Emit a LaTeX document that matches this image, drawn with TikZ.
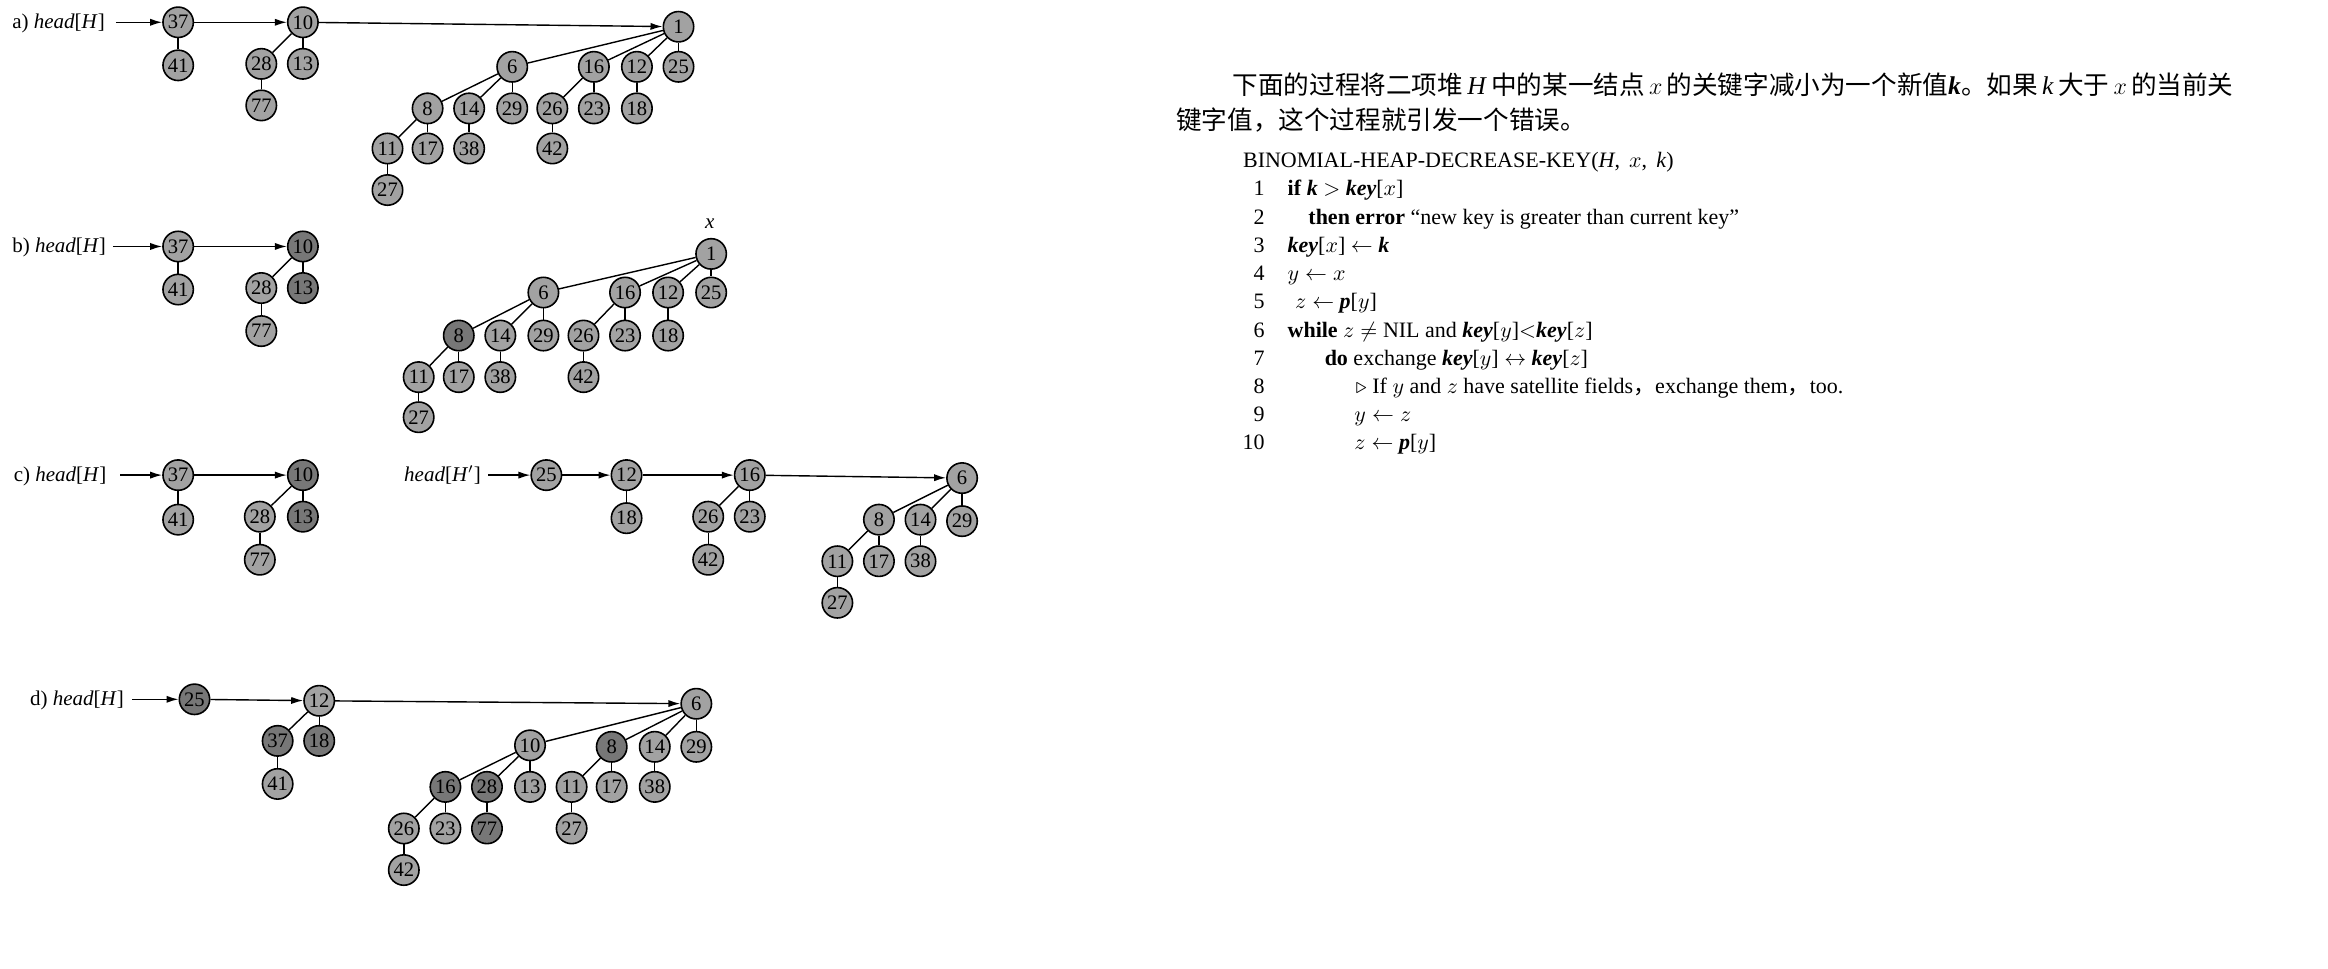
\documentclass[tikz,border=0pt]{standalone}
\usepackage{fontspec}
\setmainfont{Liberation Serif}
\newfontfamily\cjk{Noto Sans CJK SC}
\usetikzlibrary{arrows.meta}
\definecolor{nodegray}{HTML}{A2A2A2}
\definecolor{nodedark}{HTML}{777777}
\newcommand{\kw}[1]{\textbf{\textit{#1}}}
\newcommand{\lt}[1]{\textrm{\textit{#1}}}
\begin{document}
\begin{tikzpicture}[x=0.7425pt,y=-0.7425pt,
  hn/.style={circle,draw=black,line width=0.8pt,fill=nodegray,inner sep=0pt,minimum size=15.2pt,font=\fontsize{10.3}{10}\selectfont},
  hd/.style={hn,fill=nodedark},
  te/.style={draw=black,line width=0.7pt},
  ar/.style={draw=black,line width=0.7pt,-{Latex[length=6pt,width=3.6pt]}},
  lab/.style={anchor=base west,inner sep=0pt,font=\fontsize{10.5}{12}\selectfont},
  cl/.style={anchor=base west,inner sep=0pt,font=\fontsize{11}{13}\selectfont},
  ln/.style={anchor=base east,inner sep=0pt,font=\fontsize{11}{13}\selectfont},
  zh/.style={anchor=base west,inner sep=0pt,font=\cjk\fontsize{12.8}{15}\selectfont}]
\useasboundingbox (0,0) rectangle (1568,652);

% ---------- panel a ----------
\node[lab] (alab) at (8,19.5) {a) \textit{head}[\textit{H}]};
\coordinate (astart) at (78,15);
\node[hn] (a37) at (120,15) {37};
\node[hn] (a41) at (120,44) {41};
\node[hn] (a10) at (204,15) {10};
\node[hn] (a28) at (176,43) {28};
\node[hn] (a13) at (204,43) {13};
\node[hn] (a77) at (176,71) {77};
\node[hn] (a1) at (457,18) {1};
\node[hn] (a6) at (345,45) {6};
\node[hn] (a16) at (400,45) {16};
\node[hn] (a12) at (429,45) {12};
\node[hn] (a25) at (457,45) {25};
\node[hn] (a8) at (288,73) {8};
\node[hn] (a14) at (316,73) {14};
\node[hn] (a29) at (345,73) {29};
\node[hn] (a26) at (372,73) {26};
\node[hn] (a23) at (400,73) {23};
\node[hn] (a18) at (429,73) {18};
\node[hn] (a11) at (261,100) {11};
\node[hn] (a17) at (288,100) {17};
\node[hn] (a38) at (316,100) {38};
\node[hn] (a42) at (372,100) {42};
\node[hn] (a27) at (261,128) {27};
\foreach \p/\c in {a37/a41,a10/a28,a10/a13,a28/a77,a1/a6,a1/a16,a1/a12,a1/a25,a6/a8,a6/a14,a6/a29,a8/a11,a8/a17,a14/a38,a11/a27,a16/a26,a16/a23,a26/a42,a12/a18}
  \draw[te] (\p) -- (\c);
\draw[ar] (astart) -- (a37);
\draw[ar] (a37) -- (a10);
\draw[ar] (a10) -- (a1);

% ---------- panel b ----------
\node[lab] (blab) at (8,170) {b) \textit{head}[\textit{H}]};
\coordinate (bstart) at (76,166);
\node[hn] (b37) at (120,166) {37};
\node[hn] (b41) at (120,195) {41};
\node[hd] (b10) at (204,166) {10};
\node[hn] (b28) at (176,194) {28};
\node[hd] (b13) at (204,194) {13};
\node[hn] (b77) at (176,223) {77};
\node[lab,anchor=base] (bx) at (478,154) {\textit{x}};
\node[hn] (b1) at (479,171) {1};
\node[hn] (b6) at (366,197) {6};
\node[hn] (b16) at (421,197) {16};
\node[hn] (b12) at (450,197) {12};
\node[hn] (b25) at (479,197) {25};
\node[hd] (b8) at (309,226) {8};
\node[hn] (b14) at (337,226) {14};
\node[hn] (b29) at (366,226) {29};
\node[hn] (b26) at (393,226) {26};
\node[hn] (b23) at (421,226) {23};
\node[hn] (b18) at (450,226) {18};
\node[hn] (b11) at (282,254) {11};
\node[hn] (b17) at (309,254) {17};
\node[hn] (b38) at (337,254) {38};
\node[hn] (b42) at (393,254) {42};
\node[hn] (b27) at (282,281) {27};
\foreach \p/\c in {b37/b41,b10/b28,b10/b13,b28/b77,b1/b6,b1/b16,b1/b12,b1/b25,b6/b8,b6/b14,b6/b29,b8/b11,b8/b17,b14/b38,b11/b27,b16/b26,b16/b23,b26/b42,b12/b18}
  \draw[te] (\p) -- (\c);
\draw[ar] (bstart) -- (b37);
\draw[ar] (b37) -- (b10);

% ---------- panel c ----------
\node[lab] (clab) at (9,324.5) {c) \textit{head}[\textit{H}]};
\coordinate (cstart) at (81,320);
\node[hn] (c37) at (120,320) {37};
\node[hn] (c41) at (120,350) {41};
\node[hd] (c10) at (204,320) {10};
\node[hn] (c28) at (175,348) {28};
\node[hd] (c13) at (204,348) {13};
\node[hn] (c77) at (175,377) {77};
\node[lab] (chlab) at (272,324.5) {\textit{head}[\textit{H}$'$]};
\coordinate (chstart) at (329,320);
\node[hn] (c25) at (368,320) {25};
\node[hn] (c12) at (422,320) {12};
\node[hn] (c18) at (422,349) {18};
\node[hn] (c16) at (505,320) {16};
\node[hn] (c26) at (477,348) {26};
\node[hn] (c23) at (505,348) {23};
\node[hn] (c42) at (477,377) {42};
\node[hn] (c6) at (648,322) {6};
\node[hn] (c8) at (592,350) {8};
\node[hn] (c14) at (620,350) {14};
\node[hn] (c29) at (648,351) {29};
\node[hn] (c11) at (564,378) {11};
\node[hn] (c17) at (592,378) {17};
\node[hn] (c38) at (620,378) {38};
\node[hn] (c27) at (564,406) {27};
\foreach \p/\c in {c37/c41,c10/c28,c10/c13,c28/c77,c12/c18,c16/c26,c16/c23,c26/c42,c6/c8,c6/c14,c6/c29,c8/c11,c8/c17,c14/c38,c11/c27}
  \draw[te] (\p) -- (\c);
\draw[ar] (cstart) -- (c37);
\draw[ar] (c37) -- (c10);
\draw[ar] (chstart) -- (c25);
\draw[ar] (c25) -- (c12);
\draw[ar] (c12) -- (c16);
\draw[ar] (c16) -- (c6);

% ---------- panel d ----------
\node[lab] (dlab) at (20,475.5) {d) \textit{head}[\textit{H}]};
\coordinate (dstart) at (89,471);
\node[hd] (d25) at (131,471) {25};
\node[hn] (d12) at (215,472) {12};
\node[hd] (d37) at (187,499) {37};
\node[hd] (d18) at (215,499) {18};
\node[hn] (d41) at (187,528) {41};
\node[hn] (d6) at (469,474) {6};
\node[hn] (d10) at (357,502) {10};
\node[hd] (d8) at (412,503) {8};
\node[hn] (d14) at (441,503) {14};
\node[hn] (d29) at (469,503) {29};
\node[hd] (d16) at (300,530) {16};
\node[hd] (d28) at (328,530) {28};
\node[hn] (d13) at (357,530) {13};
\node[hn] (d11) at (385,530) {11};
\node[hn] (d17) at (412,530) {17};
\node[hn] (d38) at (441,530) {38};
\node[hn] (d26) at (272,558) {26};
\node[hn] (d23) at (300,558) {23};
\node[hd] (d77) at (328,558) {77};
\node[hn] (d27) at (385,558) {27};
\node[hn] (d42) at (272,586) {42};
\foreach \p/\c in {d12/d37,d12/d18,d37/d41,d6/d10,d6/d8,d6/d14,d6/d29,d10/d16,d10/d28,d10/d13,d16/d26,d16/d23,d26/d42,d28/d77,d8/d11,d8/d17,d11/d27,d14/d38}
  \draw[te] (\p) -- (\c);
\draw[ar] (dstart) -- (d25);
\draw[ar] (d25) -- (d12);
\draw[ar] (d12) -- (d6);

% ---------- text ----------
\node[zh] (p1) at (830,63.5) {下面的过程将二项堆\,\lt{H}\,中的某一结点\,$x$\,的关键字减小为一个新值\textrm{\kw{k}}。如果\,\lt{k}\,大于\,$x$\,的当前关};
\node[zh] (p2) at (792,87) {键字值，这个过程就引发一个错误。};
\node[cl] (hdr) at (837,112.5) {BINOMIAL-HEAP-DECREASE-KEY(\textit{H}, \,$x$, \,\textit{k})};
\node[ln] (n1) at (852,132) {1};
\node[ln] (n2) at (852,151) {2};
\node[ln] (n3) at (852,170) {3};
\node[ln] (n4) at (852,189) {4};
\node[ln] (n5) at (852,208) {5};
\node[ln] (n6) at (852,227) {6};
\node[ln] (n7) at (852,246) {7};
\node[ln] (n8) at (852,265) {8};
\node[ln] (n9) at (852,284) {9};
\node[ln] (n10) at (852,303) {10};
\node[cl] (l1) at (867,132) {\textbf{if} \kw{k} $>$ \kw{key}[$x$]};
\node[cl] (l2) at (881,151) {\textbf{then error} ``new key is greater than current key''};
\node[cl] (l3) at (867,170) {\kw{key}[$x$] $\leftarrow$ \kw{k}};
\node[cl] (l4) at (867,189) {$y \leftarrow x$};
\node[cl] (l5) at (872,208) {$z \leftarrow$ \kw{p}[$y$]};
\node[cl] (l6) at (867,227) {\textbf{while} $z \neq$ NIL and \kw{key}[$y$]$<$\kw{key}[$z$]};
\node[cl] (l7) at (892,246) {\textbf{do} exchange \kw{key}[$y$] $\leftrightarrow$ \kw{key}[$z$]};
\node[cl] (l8) at (913,265) {$\triangleright$ If $y$ and $z$ have satellite fields{\cjk ，}exchange them{\cjk ，}too.};
\node[cl] (l9) at (912,284) {$y \leftarrow z$};
\node[cl] (l10) at (912,303) {$z \leftarrow$ \kw{p}[$y$]};
\end{tikzpicture}
\end{document}
